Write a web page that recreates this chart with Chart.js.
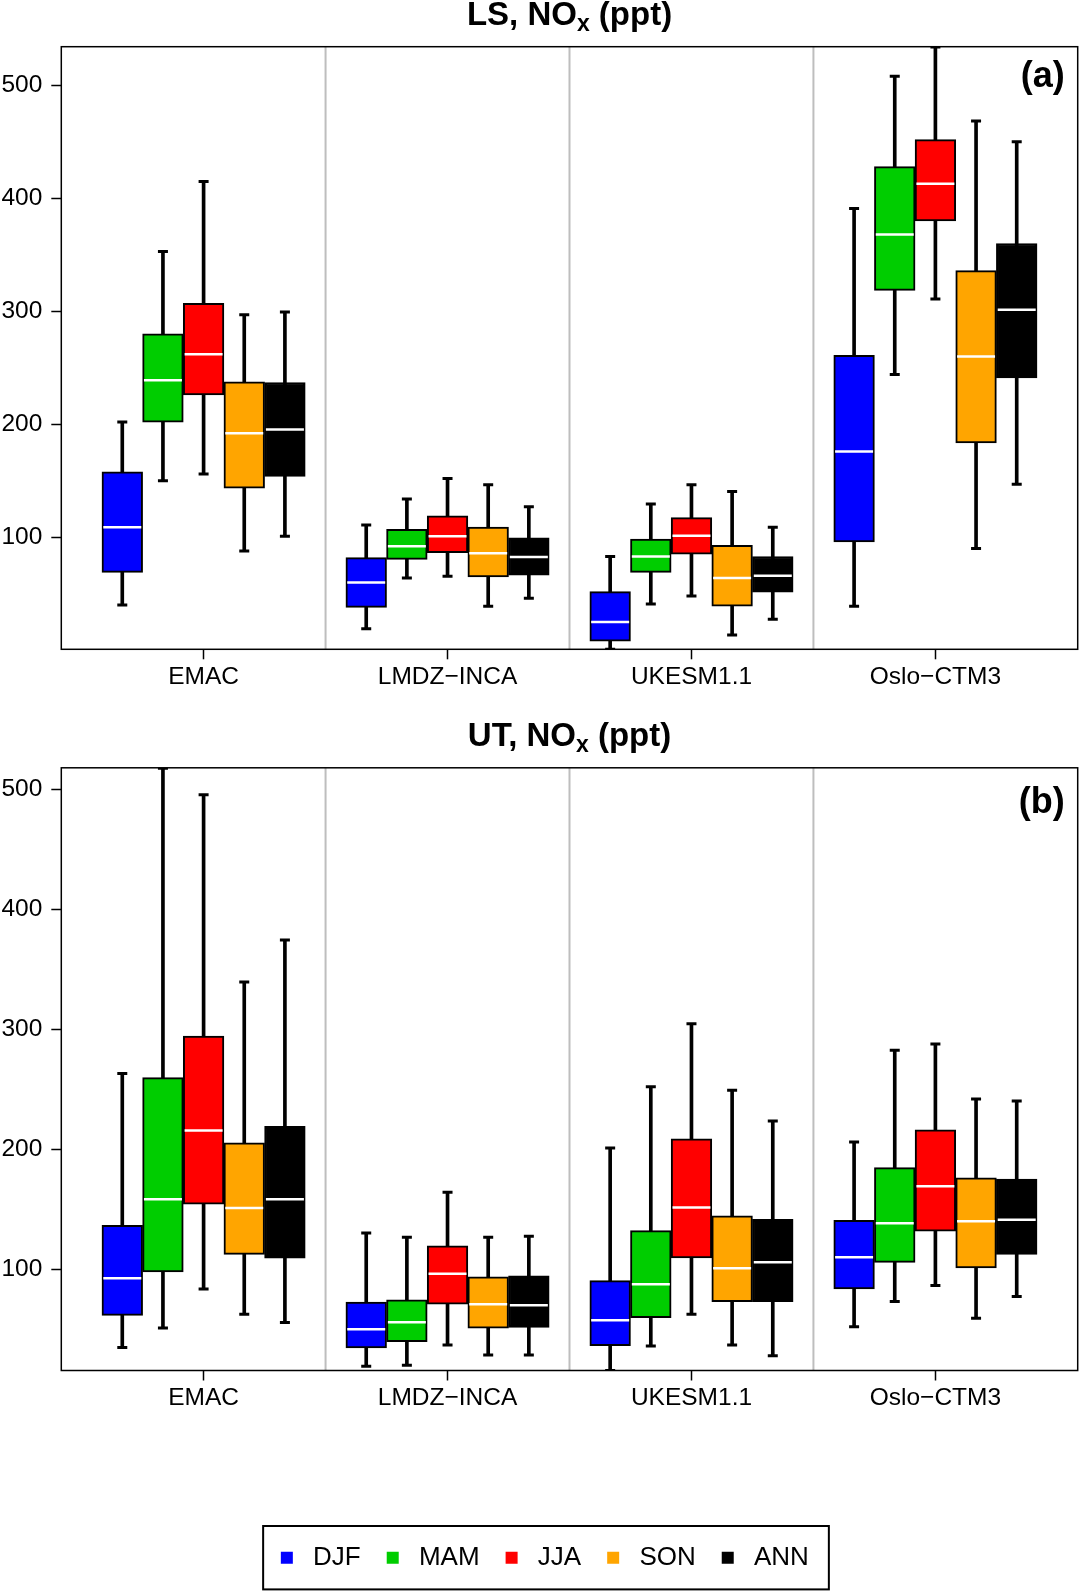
<!DOCTYPE html>
<html>
<head>
<meta charset="utf-8">
<script src="https://cdn.jsdelivr.net/npm/chart.js@4.4.1/dist/chart.umd.min.js"></script>
<style>
  html, body { margin: 0; padding: 0; background: #fff; overflow: hidden; }
  #wrap { position: relative; width: 1079px; height: 1591px; }
  .panel { position: absolute; left: 0; width: 1079px; }
</style>
</head>
<body>
<div id="wrap">
  <div class="panel" style="top:0;height:710px"><canvas id="ls-chart"></canvas></div>
  <div class="panel" style="top:710px;height:881px"><canvas id="ut-chart"></canvas></div>
</div>
<script>
const FONT = "'Liberation Sans', Arial, Helvetica, sans-serif";
Chart.defaults.font.family = FONT;
Chart.defaults.color = '#000';

const models       = ['EMAC', 'LMDZ\u2212INCA', 'UKESM1.1', 'Oslo\u2212CTM3'];
const seasons      = ['DJF', 'MAM', 'JJA', 'SON', 'ANN'];
const seasonColors = ['#0000ff', '#00cd00', '#ff0000', '#ffa500', '#000000'];
const yTicks       = [100, 200, 300, 400, 500];

// rows = seasons, columns = models
// LS panel
const lsLow = [
  [40, 19, 1, 39],
  [150, 64, 41, 244],
  [156, 65.5, 48, 311],
  [88, 39, 13.5, 90],
  [101, 46, 27.5, 147],
];
const lsQ1 = [
  [69, 38, 8, 96],
  [202, 80.5, 69, 318.5],
  [226, 86.5, 85, 380],
  [143.5, 65, 39, 183.5],
  [154, 66.5, 51.5, 241],
];
const lsMed = [
  [109, 60, 25, 176],
  [239, 92, 83, 368],
  [262, 101, 101.5, 413],
  [192, 86, 64, 260],
  [195.5, 82.5, 66, 301.5],
];
const lsQ3 = [
  [158, 82, 52, 261],
  [280, 107, 98.5, 428],
  [307, 119, 117.5, 452],
  [237.5, 109, 93, 336],
  [237, 99.5, 83, 360],
];
const lsHigh = [
  [202, 111, 83, 391],
  [353, 134, 129.5, 508],
  [415, 152, 146.5, 534],
  [297, 146.5, 140.5, 468.5],
  [299.5, 127, 109, 450],
];

// UT panel
const utLow = [
  [35, 19.3, 15.8, 52.2],
  [51.2, 20.1, 36.2, 73.3],
  [83.8, 37, 62.6, 86.7],
  [62.8, 28.7, 37, 59.3],
  [55.8, 28.7, 28.1, 77.6],
];
const utQ1 = [
  [61.7, 34.6, 36.5, 83.8],
  [97.9, 39.8, 59.8, 105.9],
  [154.4, 71, 109.6, 131.9],
  [112.6, 51, 73.2, 101.4],
  [109.5, 51.8, 73.2, 112.6],
];
const utMed = [
  [92.7, 50.1, 57.6, 110.2],
  [158.6, 56, 87.7, 138.6],
  [215.8, 96.5, 151.8, 169.4],
  [151.3, 71, 101, 140.3],
  [158.6, 70.1, 106, 141.4],
];
const utQ3 = [
  [136.8, 72.9, 90.7, 141],
  [260, 74.8, 132.4, 185],
  [294.7, 119.8, 209, 216.5],
  [205.6, 94, 144.8, 176.5],
  [219.3, 94.8, 141.8, 175.4],
];
const utHigh = [
  [263.5, 130.4, 201.3, 206.3],
  [518, 126.8, 252.4, 282.8],
  [495.8, 164.4, 304.9, 288.1],
  [339.7, 126.8, 249.4, 242.1],
  [374.8, 127.7, 223.8, 240.4],
];

const lsRange = [0.9, 534.2];
const utRange = [15.8, 518.3];
const lsTitle = ['LS, NO', 'x', ' (ppt)'];
const utTitle = ['UT, NO', 'x', ' (ppt)'];

// x axis in "slots": pad, 5 boxes, gap, 5 boxes, gap, ... pad = 25 slots
const slot     = (m, s) => 1.5 + 6 * m + s;
const groupMid = m => 3.5 + 6 * m;
const dividers = models.slice(1).map((_, m) => 6 * (m + 1) + 0.5);

function boxDatasets(low, q1, med, q3, high) {
  const sets = seasons.map((name, s) => ({
    type: 'bar',
    label: name,
    order: 2,
    data: models.map((_, m) => ({ x: slot(m, s), y: [q1[s][m], q3[s][m]] })),
    backgroundColor: seasonColors[s],
    borderColor: '#000',
    borderWidth: 2,
    borderSkipped: false,
    grouped: false,
    barPercentage: 1,
    categoryPercentage: 1,
  }));
  const whisk = [], caps = [], meds = [];
  seasons.forEach((_, s) => models.forEach((_, m) => {
    const x = slot(m, s);
    whisk.push({ x, y: [low[s][m], high[s][m]] });
    caps.push({ x, y: low[s][m] }, { x, y: high[s][m] });
    meds.push({ x, y: med[s][m] });
  }));
  sets.push({ type: 'bar', label: 'whiskers', order: 3, data: whisk,
              backgroundColor: '#000', barThickness: 3, grouped: false });
  sets.push({ type: 'scatter', label: 'caps', order: 1, data: caps,
              pointStyle: 'line', pointRadius: 5, pointBorderWidth: 3,
              pointBorderColor: '#000', borderColor: '#000' });
  sets.push({ type: 'scatter', label: 'medians', order: 0, data: meds,
              pointStyle: 'line', pointRadius: 19, pointBorderWidth: 2.5,
              pointBorderColor: '#fff', borderColor: '#fff' });
  return sets;
}

function drawSubTitle(ctx, parts, cx, baseline) {
  const big = `bold 33px ${FONT}`, small = `bold 23px ${FONT}`;
  const fonts = [big, small, big];
  const dy = [0, 6, 0];
  const widths = parts.map((t, i) => { ctx.font = fonts[i]; return ctx.measureText(t).width; });
  let x = cx - widths.reduce((a, b) => a + b, 0) / 2;
  ctx.textAlign = 'left';
  ctx.textBaseline = 'alphabetic';
  ctx.fillStyle = '#000';
  parts.forEach((t, i) => {
    ctx.font = fonts[i];
    ctx.fillText(t, x, baseline + dy[i]);
    x += widths[i];
  });
}

// frame, group dividers, title, panel tag and legend box
const panelDecor = {
  id: 'panelDecor',
  afterLayout(chart, args, opts) {
    // legend sits a little right of the canvas centre in the original
    if (opts.legendBox && chart.legend) {
      chart.legend.left += opts.legendShift;
      chart.legend.right += opts.legendShift;
    }
  },
  beforeDatasetsDraw(chart) {
    const { ctx, chartArea: a, scales: { x } } = chart;
    ctx.save();
    ctx.strokeStyle = '#bebebe';
    ctx.lineWidth = 2;
    dividers.forEach(v => {
      const px = x.getPixelForValue(v);
      ctx.beginPath();
      ctx.moveTo(px, a.top);
      ctx.lineTo(px, a.bottom);
      ctx.stroke();
    });
    ctx.restore();
  },
  afterDraw(chart, args, opts) {
    const { ctx, chartArea: a } = chart;
    ctx.save();
    ctx.strokeStyle = '#000';
    ctx.lineWidth = 1.5;
    ctx.strokeRect(a.left, a.top, a.right - a.left, a.bottom - a.top);

    drawSubTitle(ctx, opts.title, (a.left + a.right) / 2, a.top - 21.8);

    ctx.font = `bold 36px ${FONT}`;
    ctx.textAlign = 'right';
    ctx.textBaseline = 'alphabetic';
    ctx.fillStyle = '#000';
    ctx.fillText(opts.tag, a.right - 13, a.top + opts.tagDy);

    if (opts.legendBox && chart.legend) {
      const hb = chart.legend.legendHitBoxes;
      const first = hb[0], last = hb[hb.length - 1];
      const cy = first.top + first.height / 2;
      const l = first.left - 17.7, r = last.left + last.width + 20;
      ctx.lineWidth = 2;
      ctx.strokeRect(l, cy - 31.7, r - l, 63.4);
    }
    ctx.restore();
  },
};

function makePanel(id, sets, range, pad, yWidth, xHeight, deco, showLegend) {
  const gridOpts = { offset: false, drawOnChartArea: false, drawTicks: true,
                     tickLength: 10, tickWidth: 1.5, tickColor: '#000', color: '#000' };
  return new Chart(document.getElementById(id), {
    type: 'bar',
    data: { datasets: sets },
    options: {
      responsive: true,
      maintainAspectRatio: false,
      animation: false,
      events: [],
      layout: { padding: pad, autoPadding: false },
      scales: {
        x: {
          type: 'linear', min: 0, max: 25, bounds: 'data', offset: false,
          afterBuildTicks: s => { s.ticks = models.map((_, m) => ({ value: groupMid(m) })); },
          afterFit: s => { s.height = xHeight; },
          ticks: { callback: (v, i) => models[i], font: { size: 24.5 }, color: '#000',
                   padding: 3, maxRotation: 0, autoSkip: false },
          grid: gridOpts,
          border: { display: false },
        },
        y: {
          type: 'linear', min: range[0], max: range[1], bounds: 'data',
          afterBuildTicks: s => { s.ticks = yTicks.map(v => ({ value: v })); },
          afterFit: s => { s.width = yWidth; },
          ticks: { callback: v => String(v), font: { size: 24.5 }, color: '#000', padding: 9 },
          grid: gridOpts,
          border: { display: false },
        },
      },
      plugins: {
        tooltip: { enabled: false },
        legend: {
          display: showLegend,
          position: 'bottom',
          align: 'center',
          labels: {
            boxWidth: 12, boxHeight: 12, padding: 26, color: '#000', font: { size: 26 },
            generateLabels: () => seasons.map((name, s) => ({
              text: ' ' + name, fillStyle: seasonColors[s], strokeStyle: seasonColors[s],
              lineWidth: 0, hidden: false, datasetIndex: s, fontColor: '#000',
            })),
          },
        },
        panelDecor: deco,
      },
    },
    plugins: [panelDecor],
  });
}

makePanel('ls-chart', boxDatasets(lsLow, lsQ1, lsMed, lsQ3, lsHigh), lsRange,
  { top: 46.7, left: 0, right: 1.3, bottom: 0 }, 61.3, 60.7,
  { title: lsTitle, tag: '(a)', tagDy: 40.5, legendBox: false, legendShift: 0 }, false);

makePanel('ut-chart', boxDatasets(utLow, utQ1, utMed, utQ3, utHigh), utRange,
  { top: 57.8, left: 0, right: 1.3, bottom: 10.3 }, 61.3, 148.2,
  { title: utTitle, tag: '(b)', tagDy: 45.5, legendBox: true, legendShift: 6 }, true);
</script>
</body>
</html>
